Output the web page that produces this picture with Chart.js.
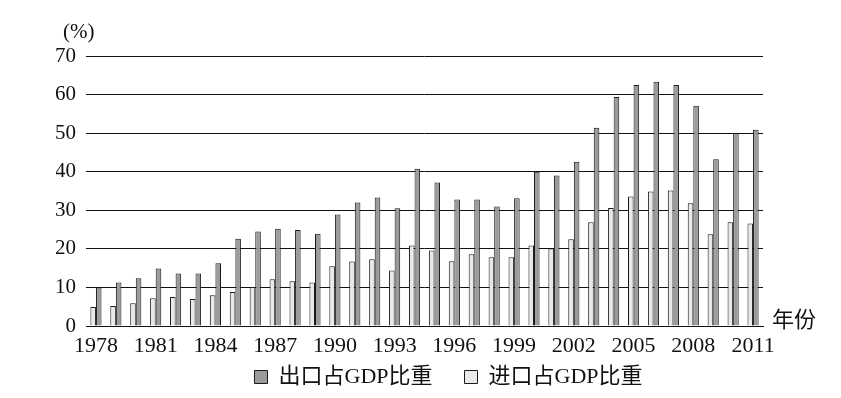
<!DOCTYPE html>
<html>
<head>
<meta charset="utf-8">
<script src="https://cdn.jsdelivr.net/npm/chart.js@4"></script>
<style>
  html, body { margin: 0; padding: 0; background: #fff; }
  canvas { display: block; background: #fff; }
</style>
</head>
<body>
<canvas id="c" width="841" height="398"></canvas>
<script>
const years = [1978,1979,1980,1981,1982,1983,1984,1985,1986,1987,1988,1989,1990,1991,1992,1993,1994,1995,1996,1997,1998,1999,2000,2001,2002,2003,2004,2005,2006,2007,2008,2009,2010,2011];
const exportShare = [10.0,11.3,12.4,14.9,13.6,13.6,16.3,22.6,24.5,25.2,24.9,23.9,28.9,32.0,33.3,30.5,40.8,37.2,32.8,32.8,31.0,33.1,40.0,39.0,42.6,51.4,59.4,62.5,63.3,62.5,57.1,43.2,50.0,50.9];
const importShare = [4.9,5.2,5.9,7.2,7.5,7.0,8.0,8.8,10.1,12.1,11.6,11.3,15.5,16.7,17.3,14.4,20.9,19.6,16.8,18.6,17.8,17.8,20.9,20.1,22.5,26.9,30.6,33.6,34.9,35.1,31.8,23.8,26.9,26.6];
const seriesNames = ['出口占GDP比重', '进口占GDP比重'];
const yTicks = [0,10,20,30,40,50,60,70];
const yUnit = '(%)';
const xTitle = '年份';

const serif = "'Liberation Serif', 'Noto Sans CJK SC', serif";

const textPlugin = {
  id: 'extraText',
  afterDraw(chart) {
    const ctx = chart.ctx;
    const ca = chart.chartArea;
    ctx.save();
    ctx.fillStyle = '#111';
    ctx.textBaseline = 'middle';
    ctx.textAlign = 'left';
    ctx.font = "21px " + serif;
    ctx.fillText(yUnit, 63, 32);
    ctx.font = "22px " + serif;
    ctx.fillText(xTitle, ca.right + 9, ca.bottom - 5);
    ctx.restore();
  }
};

new Chart(document.getElementById('c'), {
  type: 'bar',
  data: {
    labels: years.map(String),
    datasets: [
      {
        label: seriesNames[1],
        data: importShare,
        backgroundColor: '#e9e9e9',
        borderColor: '#1a1a1a',
        borderWidth: 1,
        categoryPercentage: 0.56,
        barPercentage: 1.0
      },
      {
        label: seriesNames[0],
        data: exportShare,
        backgroundColor: '#9b9b9b',
        borderColor: '#1a1a1a',
        borderWidth: 1,
        categoryPercentage: 0.56,
        barPercentage: 1.0
      }
    ]
  },
  options: {
    responsive: false,
    animation: false,
    devicePixelRatio: 1,
    layout: { padding: { left: 56, right: 0, top: 56, bottom: 0 } },
    plugins: {
      legend: {
        position: 'bottom',
        reverse: true,
        labels: {
          boxWidth: 13,
          boxHeight: 13,
          padding: 10,
          color: '#111',
          font: { size: 22, family: serif },
          generateLabels(chart) {
            const items = Chart.defaults.plugins.legend.labels.generateLabels(chart);
            items.forEach(it => {
              it.lineWidth = 1;
              if (it.datasetIndex === 1) it.text = it.text + '\u3000';
            });
            return items;
          }
        }
      },
      tooltip: { enabled: false }
    },
    scales: {
      x: {
        grid: { display: false, drawTicks: false },
        border: { display: true, color: '#111', width: 1 },
        ticks: {
          autoSkip: false,
          maxRotation: 0,
          minRotation: 0,
          padding: 7,
          color: '#111',
          font: { size: 22, family: serif },
          callback: function(value, index) {
            return index % 3 === 0 ? this.getLabelForValue(value) : '';
          }
        },
        afterFit(scale) { scale.height = 30; }
      },
      y: {
        min: 0,
        max: 70,
        afterBuildTicks(scale) { scale.ticks = yTicks.map(v => ({ value: v })); },
        grid: { color: '#111', lineWidth: 1, drawTicks: false },
        border: { display: false },
        ticks: {
          padding: 10,
          color: '#111',
          font: { size: 21, family: serif }
        },
        afterFit(scale) { scale.width = 30; }
      },
      y2: {
        position: 'right',
        display: true,
        grid: { display: false, drawTicks: false },
        border: { display: false },
        ticks: { display: false },
        afterFit(scale) { scale.width = 78; }
      }
    }
  },
  plugins: [textPlugin]
});
</script>
</body>
</html>
